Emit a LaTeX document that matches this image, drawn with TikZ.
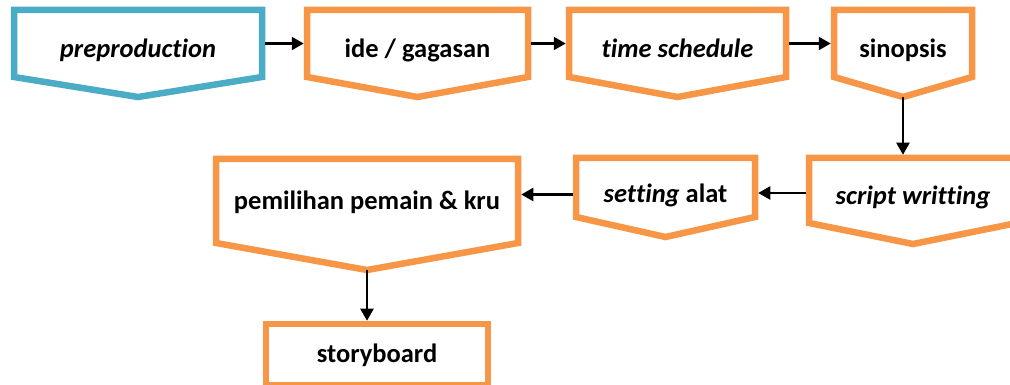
\documentclass[tikz,border=0pt]{standalone}
\usepackage{fontspec}
\setmainfont{Carlito}[Ligatures=NoCommon]
\usepackage{tikz}
\usetikzlibrary{positioning,arrows.meta,calc}

\definecolor{accorange}{HTML}{F79646}
\definecolor{accblue}{HTML}{4BACC6}

\begin{document}
\begin{tikzpicture}[x=1pt,y=1pt,>=Stealth,
		box/.style={rectangle,inner sep=0pt,outer sep=0pt,align=center,
			text height=35pt,text depth=6pt,
			font=\fontsize{26.5}{30}\selectfont\bfseries},
		boxline/.style={line width=6.5pt,draw=accorange},
		flow/.style={-{Triangle[length=12pt,width=13pt]},line width=2.2pt,
			shorten <=3.25pt,shorten >=3.25pt}]
		
		\useasboundingbox (0,0) rectangle (1010,385);
		
		% Top row
		\node[box,minimum width=248pt,minimum height=67pt] (prepro) at (138,341.5) {\textit{preproduction}};
		\node[box,minimum width=221pt,minimum height=67pt] (ide) at (417.5,341.5) {ide / gagasan};
		\node[box,minimum width=217pt,minimum height=67pt] (time) at (677.5,341.5) {\textit{time schedule}};
		\node[box,minimum width=138pt,minimum height=67pt] (sinop) at (903,341.5) {sinopsis};
		
		% Second row
		\node[box,minimum width=208pt,minimum height=65pt] (script) at (913,194.5) {\textit{script writting}};
		\node[box,minimum width=179pt,minimum height=59pt,text height=37pt] (setting) at (665.5,197.5) {\textit{setting} alat};
		\node[box,minimum width=302pt,minimum height=84pt,text height=24pt] (pemil) at (367,184) {pemilihan pemain \& kru};
		
		% Last step
		\node[box,boxline,minimum width=222pt,minimum height=61.5pt,text height=22.5pt] (story) at (377,30.25) {storyboard};
		
		% Off-page outlines
		\foreach \n/\d/\c in {prepro/20/accblue,ide/20/accorange,time/20/accorange,
			sinop/20/accorange,script/21/accorange,setting/20/accorange,pemil/27/accorange}
		{
			\draw[boxline,draw=\c] (\n.north west) -- (\n.north east) -- (\n.south east)
			-- ($(\n.south)+(0,-\d)$) coordinate (\n-tip) -- (\n.south west) -- cycle;
		}
		
		% Arrows
		\draw[flow] (prepro.east) -- (ide.west);
		\draw[flow] (ide.east) -- (time.west);
		\draw[flow] (time.east) -- (sinop.west);
		\draw[flow,shorten <=0pt] (sinop-tip) -- (sinop-tip |- script.north);
		\draw[flow] ([yshift=-2.5pt]script.west) -- ([yshift=-2.5pt]script.west -| setting.east);
		\draw[flow] ([yshift=-7pt]setting.west) -- ([yshift=-7pt]setting.west -| pemil.east);
		\draw[flow,shorten <=0pt] (pemil-tip) -- (pemil-tip |- story.north);
		
	\end{tikzpicture}
\end{document}
